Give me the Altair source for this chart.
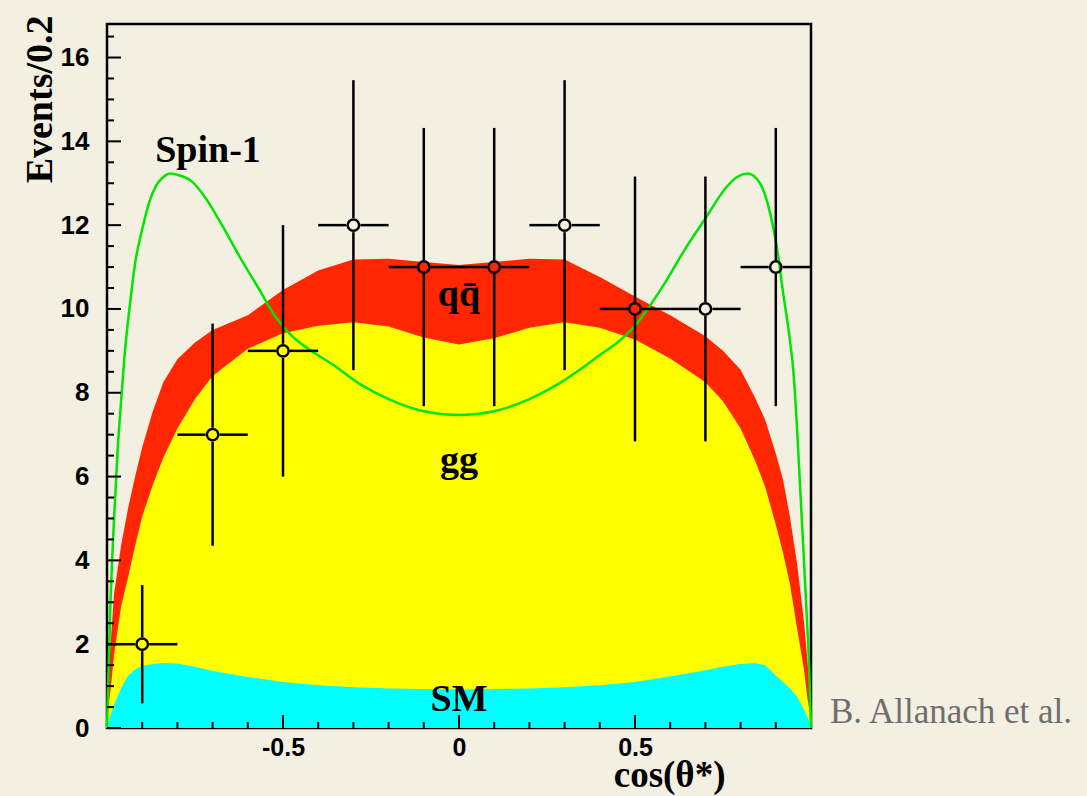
import altair as alt
import numpy as np
import pandas as pd

# --- stacked expectation histogram: cumulative tops of each contribution ---
cos_grid = [-1.0, -0.99, -0.98, -0.96, -0.94, -0.92, -0.90, -0.87, -0.84, -0.80,
            -0.75, -0.70, -0.60, -0.50, -0.40, -0.30, -0.20, -0.10, 0.0,
            0.10, 0.20, 0.30, 0.40, 0.50, 0.60, 0.70, 0.75, 0.80, 0.84,
            0.87, 0.90, 0.92, 0.94, 0.96, 0.98, 0.99, 1.0]
sm_top = [0.05, 0.3, 0.55, 0.95, 1.25, 1.4, 1.48, 1.53, 1.55, 1.54,
          1.46, 1.36, 1.22, 1.1, 1.02, 0.97, 0.94, 0.93, 0.92,
          0.93, 0.94, 0.97, 1.02, 1.1, 1.23, 1.38, 1.46, 1.53, 1.55,
          1.5, 1.25, 1.1, 0.95, 0.75, 0.45, 0.25, 0.05]
sm_gg_top = [0.3, 0.9, 1.75, 2.9, 3.6, 4.35, 5.05, 5.8, 6.45, 7.15,
             7.85, 8.4, 9.05, 9.42, 9.6, 9.68, 9.58, 9.32, 9.15,
             9.3, 9.55, 9.68, 9.55, 9.27, 8.82, 8.25, 7.8, 7.15, 6.4,
             5.75, 4.85, 4.2, 3.45, 2.4, 1.4, 0.7, 0.2]
total_top = [0.6, 2.0, 3.2, 4.35, 5.25, 6.0, 6.7, 7.55, 8.25, 8.8,
             9.2, 9.5, 9.85, 10.45, 10.92, 11.18, 11.2, 11.12, 11.05,
             11.12, 11.2, 11.18, 10.76, 10.3, 9.85, 9.35, 9.0, 8.55, 7.9,
             7.35, 6.55, 5.95, 5.05, 3.95, 2.55, 1.6, 0.5]

# --- Spin-1 hypothesis curve ---
spin_x = [-1.0, -0.995, -0.99, -0.98, -0.97, -0.96, -0.95, -0.935, -0.92, -0.90,
          -0.88, -0.86, -0.84, -0.82, -0.80, -0.76, -0.72, -0.67, -0.62, -0.57,
          -0.52, -0.48, -0.42, -0.36, -0.28, -0.20, -0.10, 0.0, 0.10, 0.20,
          0.28, 0.36, 0.40, 0.45, 0.50, 0.54, 0.59, 0.64, 0.70, 0.76,
          0.79, 0.82, 0.855, 0.884, 0.903, 0.921, 0.94, 0.95, 0.96, 0.97,
          0.98, 0.988, 0.995, 1.0]
spin_y = [0.0, 1.6, 3.0, 5.0, 6.6, 7.8, 8.9, 10.1, 11.1, 11.9,
          12.55, 12.95, 13.15, 13.23, 13.2, 13.05, 12.65, 11.95, 11.2, 10.5,
          9.8, 9.4, 9.0, 8.68, 8.2, 7.85, 7.56, 7.47, 7.56, 7.85,
          8.2, 8.65, 8.9, 9.2, 9.6, 10.05, 10.69, 11.4, 12.16, 12.91,
          13.15, 13.23, 13.0, 12.28, 11.48, 10.37, 9.26, 8.5, 7.2, 5.6,
          4.0, 2.66, 1.4, 0.0]

# --- pseudo-data points ---
pt_x = [-0.9, -0.7, -0.5, -0.3, -0.1, 0.1, 0.3, 0.5, 0.7, 0.9]
pt_n = [2, 7, 9, 12, 11, 11, 12, 10, 10, 11]
pt_err = [1.41, 2.65, 3.0, 3.46, 3.32, 3.32, 3.46, 3.16, 3.16, 3.32]
pt_halfwidth = 0.1

W, H = 704, 704
X_MIN, X_MAX, Y_MIN, Y_MAX = -1.0, 1.0, 0.0, 16.8
xs = alt.Scale(domain=[X_MIN, X_MAX], nice=False, zero=False)
ys = alt.Scale(domain=[Y_MIN, Y_MAX], nice=False)

RED, YELLOW, CYAN, GREEN = "#ff2600", "#ffff00", "#00ffff", "#00e600"
SERIF, SANS = "Liberation Serif", "Liberation Sans"

hist = pd.DataFrame({"c": cos_grid, "sm": sm_top, "smgg": sm_gg_top, "tot": total_top})
spin = pd.DataFrame({"c": spin_x, "v": spin_y})
pts = pd.DataFrame({"c": pt_x, "n": pt_n})

# error-bar segments stop at the marker outline (marker radius ~7 px)
rx = 7.0 / W * (X_MAX - X_MIN)
ry = 7.0 / H * (Y_MAX - Y_MIN)
segs = []
for c, n, e in zip(pt_x, pt_n, pt_err):
    segs.append((c, n + ry, c, n + e))
    segs.append((c, n - e, c, n - ry))
    segs.append((c - pt_halfwidth, n, c - rx, n))
    segs.append((c + rx, n, c + pt_halfwidth, n))
bars = pd.DataFrame(segs, columns=["xa", "ya", "xb", "yb"])

x_axis = alt.Axis(values=[-0.5, 0, 0.5], ticks=False, domain=False, grid=False,
                  labelExpr="datum.value == 0 ? '0' : (datum.value < 0 ? '-' + format(-datum.value, '.1f') : format(datum.value, '.1f'))",
                  labelPadding=7, labelFont=SANS, labelFontWeight="bold", labelFontSize=25,
                  labelColor="black", title="cos(θ*)", titleFont=SERIF, titleFontWeight="bold",
                  titleFontSize=37, titleColor="black", titleAlign="right", titleX=618, titleY=58,
                  titleBaseline="alphabetic")
y_axis = alt.Axis(values=list(range(0, 17, 2)), ticks=False, domain=False, grid=False,
                  labelPadding=18, labelFont=SANS, labelFontWeight="bold", labelFontSize=26,
                  labelColor="black", title="Events/0.2", titleFont=SERIF, titleFontWeight="bold",
                  titleFontSize=38, titleColor="black", titleAngle=270, titleAlign="right",
                  titleX=-56, titleY=-9, titleBaseline="alphabetic")


def X(field):
    return alt.X(field, scale=xs, axis=x_axis)


def Y(field):
    return alt.Y(field, scale=ys, axis=y_axis)


base_h = alt.Chart(hist)
red = base_h.mark_area(color=RED, interpolate="linear").encode(x=X("c:Q"), y=Y("tot:Q"))
yellow = base_h.mark_area(color=YELLOW, interpolate="linear").encode(x=X("c:Q"), y=Y("smgg:Q"))
cyan = base_h.mark_area(color=CYAN, interpolate="linear").encode(x=X("c:Q"), y=Y("sm:Q"))

spin_line = alt.Chart(spin).mark_line(color=GREEN, strokeWidth=2.5, interpolate="monotone").encode(
    x=X("c:Q"), y=Y("v:Q"))

err = alt.Chart(bars).mark_rule(color="black", strokeWidth=2.5).encode(
    x=X("xa:Q"), x2="xb:Q", y=Y("ya:Q"), y2="yb:Q")
dots = alt.Chart(pts).mark_point(shape="circle", filled=False, stroke="black",
                                  strokeWidth=2.5, size=130, opacity=1).encode(
    x=X("c:Q"), y=Y("n:Q"))

labels = pd.DataFrame({
    "c": [-0.713, 0.0, 0.0, 0.0],
    "v": [13.5, 10.07, 6.1, 0.41],
    "t": ["Spin-1", "qq\u0304", "gg", "SM"],
})
label_txt = alt.Chart(labels).mark_text(font=SERIF, fontWeight="bold", fontSize=38,
                                        color="black", baseline="alphabetic", align="center").encode(
    x=X("c:Q"), y=Y("v:Q"), text="t:N")

# inward tick marks along the left and bottom frame
y_major = pd.DataFrame({"v": np.arange(0, 16.01, 2)})
y_minor = pd.DataFrame({"v": [v for v in np.arange(0.5, 16.8, 0.5) if v % 2 != 0]})
x_major = pd.DataFrame({"v": [-0.5, 0.0, 0.5]})
x_minor = pd.DataFrame({"v": [round(v, 1) for v in np.arange(-0.9, 0.95, 0.1)
                              if abs(round(v, 1)) not in (0.5, 0.0)]})


def ytick(df, length):
    return alt.Chart(df).mark_rule(color="black", strokeWidth=2).encode(
        y=Y("v:Q"), x=alt.value(0), x2=alt.value(length))


def xtick(df, length):
    return alt.Chart(df).mark_rule(color="black", strokeWidth=2).encode(
        x=X("v:Q"), y=alt.value(H), y2=alt.value(H - length))


credit = alt.Chart(pd.DataFrame({"t": ["B. Allanach et al."]})).mark_text(
    font=SERIF, fontSize=35, color="#6e6e6e", align="left", baseline="alphabetic").encode(
    x=alt.value(723), y=alt.value(699), text="t:N")

chart = alt.layer(
    red, yellow, cyan, spin_line, err, dots, label_txt,
    ytick(y_major, 14), ytick(y_minor, 7), xtick(x_major, 13), xtick(x_minor, 6), credit,
).properties(
    width=W, height=H,
    autosize=alt.AutoSizeParams(type="none"),
    padding={"left": 107, "top": 24, "right": 276, "bottom": 68},
    background="#f3efe1",
).configure_view(stroke="black", strokeWidth=2.5)

chart.save("out.html", embed_options={"renderer": "svg", "actions": False})
